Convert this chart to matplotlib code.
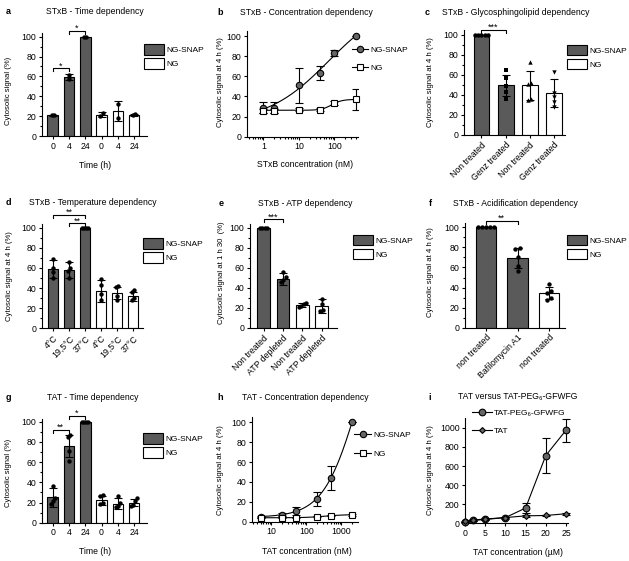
import numpy as np
import matplotlib
matplotlib.use('Agg')
import matplotlib.pyplot as plt
from matplotlib.patches import Patch
from matplotlib.lines import Line2D
from matplotlib.ticker import MultipleLocator

plt.rcParams['font.family'] = ['Liberation Sans', 'DejaVu Sans']
plt.rcParams['font.size'] = 6

# ---------------- data ----------------
# a - STxB time dependency
a_labels = ['0', '4', '24', '0', '4', '24']
a_snap_mean = [21, 59, 100]
a_snap_sd = [0.5, 3, 0]
a_snap_pts = [[21, 21], [61, 57], [100, 100]]
a_ng_mean = [21.5, 25, 21]
a_ng_sd = [2.5, 10, 1]
a_ng_pts = [[23, 20], [32, 18], [21, 22]]

# b - STxB concentration dependency
b_conc = [1, 2, 10, 40, 100, 400]
b_snap = [29, 29, 51, 63, 83, 100]
b_snap_sd = [5, 5, 17.5, 7, 3, 0]
b_ng = [26, 26, 27, 27, 33, 37]
b_ng_sd = [2, 2, 1.5, 1.5, 2, 10]

# c - glycosphingolipid dependency
c_labels = ['Non treated', 'Genz treated', 'Non treated', 'Genz treated']
c_snap_mean = [100, 50]
c_snap_sd = [0, 10.5]
c_snap_pts = [[100, 100, 100, 100, 100], [65, 57, 49, 43, 36]]
c_ng_mean = [50, 42]
c_ng_sd = [14.5, 14]
c_ng_pts = [[73, 52, 51, 36, 35], [63, 42, 38, 33, 28]]

# d - temperature dependency
d_labels = ['4°C', '19,5°C', '37°C', '4°C', '19,5°C', '37°C']
d_snap_mean = [59, 58, 100]
d_snap_sd = [9, 8, 0]
d_snap_pts = [[69, 60, 56, 50], [66, 60, 57, 50], [100, 100, 100, 100]]
d_ng_mean = [37, 35, 32]
d_ng_sd = [11, 6, 4.5]
d_ng_pts = [[49, 43, 34, 28], [42, 41, 32, 28], [38, 36, 30, 28]]

# e - ATP dependency
e_labels = ['Non treated', 'ATP depleted', 'Non treated', 'ATP depleted']
e_snap_mean = [100, 49]
e_snap_sd = [0, 6]
e_snap_pts = [[100, 100, 100, 100], [56, 51, 48, 46]]
e_ng_mean = [23, 22]
e_ng_sd = [2, 7]
e_ng_pts = [[25, 24, 22, 21], [29, 24, 18, 17]]

# f - acidification dependency
f_labels = ['non treated', 'Bafilomycin A1', 'non treated']
f_snap_mean = [100, 69]
f_snap_sd = [0, 10]
f_snap_pts = [[100, 100, 100, 100, 100], [79, 78, 70, 61, 56]]
f_ng_mean = [35]
f_ng_sd = [6]
f_ng_pts = [[44, 37, 35, 30, 28]]

# g - TAT time dependency
g_labels = ['0', '4', '24', '0', '4', '24']
g_snap_mean = [25, 76, 100]
g_snap_sd = [9, 11, 0]
g_snap_pts = [[36, 24, 21, 19], [87, 85, 71, 61], [100, 100, 100, 100]]
g_ng_mean = [22, 19, 20]
g_ng_sd = [4, 5, 3]
g_ng_pts = [[27, 26, 20, 19], [26, 20, 17, 16], [24, 21, 18, 17]]

# h - TAT concentration dependency
h_conc = [5, 20, 50, 200, 500, 2000]
h_snap = [5, 7, 11, 23, 44, 100]
h_snap_sd = [1, 1.5, 4, 7, 12, 0]
h_ng = [4, 4, 4, 5, 6, 7]
h_ng_sd = [0.5, 0.5, 0.5, 0.5, 0.7, 0.8]

# i - TAT versus TAT-PEG6-GFWFG
i_conc = [0, 2, 5, 10, 15, 20, 25]
i_peg = [12, 35, 45, 60, 160, 710, 975]
i_peg_sd = [5, 10, 10, 10, 55, 180, 120]
i_tat = [20, 30, 40, 60, 78, 82, 100]
i_tat_sd = [5, 5, 5, 5, 10, 10, 10]

DARK = '#5a5a5a'
GRAY = '#666666'
W, H = 629, 561
fig = plt.figure(figsize=(W / 100, H / 100), dpi=100)


def add_ax(l, t, r, b):
    ax = fig.add_axes([l / W, 1 - b / H, (r - l) / W, (b - t) / H])
    for s in ['top', 'right']:
        ax.spines[s].set_visible(False)
    for s in ['left', 'bottom']:
        ax.spines[s].set_linewidth(0.8)
    ax.tick_params(width=0.8, length=2.5, labelsize=6.3, pad=1.5)
    ax.tick_params(which='minor', width=0.8, length=1.5)
    return ax


def swarm(vals, step=0.13, tol=3.5):
    vals = np.asarray(vals, float)
    order = np.argsort(vals)
    off = np.zeros(len(vals))
    groups, group = [], [order[0]]
    for i in order[1:]:
        if vals[i] - vals[group[-1]] < tol:
            group.append(i)
        else:
            groups.append(group)
            group = [i]
    groups.append(group)
    for g in groups:
        off[g] = (np.arange(len(g)) - (len(g) - 1) / 2) * step
    return off


def bar_panel(ax, snap_mean, snap_sd, snap_pts, ng_mean, ng_sd, ng_pts, labels,
              ytop, xlim, markers=None, rotate=False):
    means = snap_mean + ng_mean
    sds = snap_sd + ng_sd
    pts = snap_pts + ng_pts
    colors = [DARK] * len(snap_mean) + ['white'] * len(ng_mean)
    x = np.arange(len(means))
    if markers is None:
        markers = ['o'] * len(means)
    ax.bar(x, means, width=0.65, color=colors, edgecolor='black', linewidth=0.8, zorder=2)
    ax.errorbar(x, means, yerr=sds, fmt='none', ecolor='black', elinewidth=0.8,
                capsize=2.8, capthick=0.8, zorder=3)
    for xi, vals, m in zip(x, pts, markers):
        ax.scatter(xi + swarm(vals), vals, s=10, c='black', marker=m, lw=0, zorder=4, clip_on=False)
    ax.set_xlim(*xlim)
    ax.set_ylim(0, ytop)
    ax.set_yticks(range(0, 101, 20))
    ax.yaxis.set_minor_locator(MultipleLocator(10))
    ax.set_xticks(x)
    if rotate:
        ax.set_xticklabels(labels, rotation=45, ha='right', rotation_mode='anchor')
    else:
        ax.set_xticklabels(labels)


def bracket(ax, x1, x2, y, text, drop=3):
    ax.plot([x1, x1, x2, x2], [y - drop, y, y, y - drop], color='black', lw=0.8, clip_on=False)
    ax.annotate(text, ((x1 + x2) / 2, y), xytext=(0, -1.5), textcoords='offset points',
                ha='center', va='bottom', fontsize=6.5, annotation_clip=False)


def bar_legend(ax, x, y):
    handles = [Patch(facecolor=DARK, edgecolor='black', lw=0.8, label='NG-SNAP'),
               Patch(facecolor='white', edgecolor='black', lw=0.8, label='NG')]
    ax.legend(handles=handles, loc='upper left', bbox_to_anchor=(x / W, 1 - y / H),
              bbox_transform=fig.transFigure, frameon=False, fontsize=6,
              handlelength=2.4, handleheight=1.55, handletextpad=0.3,
              labelspacing=0.4, borderpad=0, borderaxespad=0)


def line_legend(ax, x, y, labels, markers, sizes, hl=2.0, spacing=1.2):
    handles = [Line2D([0], [0], color='black', lw=0.8, marker=m, markersize=ms,
                      markerfacecolor=GRAY, markeredgecolor='black', markeredgewidth=0.8)
               for m, ms in zip(markers, sizes)]
    ax.legend(handles, labels, loc='upper left', bbox_to_anchor=(x / W, 1 - y / H),
              bbox_transform=fig.transFigure, frameon=False, fontsize=6,
              handlelength=hl, handletextpad=0.25, labelspacing=spacing,
              borderpad=0, borderaxespad=0)


def logistic_fit(x, y, xs):
    # four-parameter logistic fit (grid over EC50 and slope, linear for bottom/top)
    lx = np.log10(x)
    y = np.asarray(y, float)
    best = (np.inf, None)
    for c in np.linspace(lx.min() - 1, lx.max() + 2, 200):
        for h in np.linspace(0.3, 3.0, 28):
            f = 1 / (1 + 10 ** ((c - lx) * h))
            A = np.column_stack([np.ones_like(f), f])
            coef = np.linalg.lstsq(A, y, rcond=None)[0]
            sse = np.sum((A @ coef - y) ** 2)
            if sse < best[0]:
                best = (sse, (c, h, coef))
    c, h, coef = best[1]
    return coef[0] + coef[1] / (1 + 10 ** ((c - np.log10(xs)) * h))


def dose_panel(ax, conc, snap, snap_sd, ng, ng_sd):
    xs = np.logspace(np.log10(conc[0]), np.log10(conc[-1]), 200)
    for yv, sd, m in [(snap, snap_sd, 'o'), (ng, ng_sd, 's')]:
        ax.plot(xs, logistic_fit(conc, yv, xs), color='black', lw=0.8, zorder=2)
        ax.errorbar(conc, yv, yerr=sd, fmt='none', ecolor='black', elinewidth=0.8,
                    capsize=2.8, capthick=0.8, zorder=3)
        ax.plot(conc, yv, ls='none', marker=m, markersize=4.6,
                markerfacecolor=GRAY if m == 'o' else 'white', markeredgecolor='black',
                markeredgewidth=0.8, zorder=4, clip_on=False)
    ax.set_xscale('log')
    ax.set_ylim(0, 105)
    ax.set_yticks(range(0, 101, 20))


def text_px(x, y, s, **kw):
    fig.text(x / W, 1 - y / H, s, ha=kw.pop('ha', 'center'), va=kw.pop('va', 'center'), **kw)


# ---------------- panel a ----------------
ax = add_ax(41.7, 32.7, 146.7, 136)
bar_panel(ax, a_snap_mean, a_snap_sd, a_snap_pts, a_ng_mean, a_ng_sd, a_ng_pts,
          a_labels, 104, (-0.67, 5.77))
bracket(ax, 0, 1, 68, '*')
bracket(ax, 1, 2, 106, '*')
bar_legend(ax, 144, 44.3)

# ---------------- panel b ----------------
ax = add_ax(246.7, 31, 358.3, 136.7)
dose_panel(ax, b_conc, b_snap, b_snap_sd, b_ng, b_ng_sd)
ax.set_xlim(0.34, 474)
ax.set_xticks([1, 10, 100])
ax.set_xticklabels(['1', '10', '100'])
line_legend(ax, 351.7, 46, ['NG-SNAP', 'NG'], ['o', 's'], [4.6, 4.6])
ax.get_legend().legend_handles[1].set_markerfacecolor('white')

# ---------------- panel c ----------------
ax = add_ax(464, 30, 565, 135)
bar_panel(ax, c_snap_mean, c_snap_sd, c_snap_pts, c_ng_mean, c_ng_sd, c_ng_pts,
          c_labels, 105, (-0.72, 3.45), markers=['o', 's', '^', 'v'], rotate=True)
bracket(ax, 0, 1, 105, '***')
bar_legend(ax, 566.7, 45)

# ---------------- panel d ----------------
ax = add_ax(41.7, 224.2, 143.3, 328.3)
bar_panel(ax, d_snap_mean, d_snap_sd, d_snap_pts, d_ng_mean, d_ng_sd, d_ng_pts,
          d_labels, 103.5, (-0.72, 5.63), rotate=True)
bracket(ax, 0, 2, 112.5, '**')
bracket(ax, 1, 2, 104.5, '**')
bar_legend(ax, 143.3, 238.3)

# ---------------- panel e ----------------
ax = add_ax(250, 223.7, 336.7, 327.7)
bar_panel(ax, e_snap_mean, e_snap_sd, e_snap_pts, e_ng_mean, e_ng_sd, e_ng_pts,
          e_labels, 104, (-0.71, 3.78), rotate=True)
bracket(ax, 0, 1, 108.5, '***')
bar_legend(ax, 353.3, 235)

# ---------------- panel f ----------------
ax = add_ax(465, 223.3, 565, 327.7)
bar_panel(ax, f_snap_mean, f_snap_sd, f_snap_pts, f_ng_mean, f_ng_sd, f_ng_pts,
          f_labels, 104, (-0.66, 2.5), rotate=True)
bracket(ax, 0, 1, 106.5, '**')
bar_legend(ax, 566.7, 235)

# ---------------- panel g ----------------
ax = add_ax(41.7, 418.7, 146.7, 522.7)
bar_panel(ax, g_snap_mean, g_snap_sd, g_snap_pts, g_ng_mean, g_ng_sd, g_ng_pts,
          g_labels, 103, (-0.67, 5.77))
bracket(ax, 0, 1, 92, '**')
bracket(ax, 1, 2, 106, '*')
bar_legend(ax, 143.3, 433.3)

# ---------------- panel h ----------------
ax = add_ax(251.7, 417.3, 357.7, 521.7)
dose_panel(ax, h_conc, h_snap, h_snap_sd, h_ng, h_ng_sd)
ax.set_xlim(2.8, 2900)
ax.set_xticks([10, 100, 1000])
ax.set_xticklabels(['10', '100', '1000'])
line_legend(ax, 354.3, 431, ['NG-SNAP', 'NG'], ['o', 's'], [4.6, 4.6], spacing=1.3)
ax.get_legend().legend_handles[1].set_markerfacecolor('white')

# ---------------- panel i ----------------
ax = add_ax(465, 418.3, 568, 523.3)
ax.errorbar(i_conc, i_peg, yerr=i_peg_sd, color='black', lw=0.8, elinewidth=0.8,
            capsize=2.8, capthick=0.8, marker='o', markersize=4.8, markerfacecolor=GRAY,
            markeredgecolor='black', markeredgewidth=0.8, zorder=3, clip_on=False)
ax.errorbar(i_conc, i_tat, yerr=i_tat_sd, color='black', lw=0.8, elinewidth=0.8,
            capsize=2.8, capthick=0.8, marker='D', markersize=3.0, markerfacecolor=GRAY,
            markeredgecolor='black', markeredgewidth=0.8, zorder=4, clip_on=False)
ax.set_xlim(0, 25.5)
ax.set_ylim(0, 1100)
ax.set_xticks(range(0, 26, 5))
ax.set_yticks(range(0, 1001, 200))
line_legend(ax, 471.7, 409, ['TAT-PEG₆-GFWFG', 'TAT'], ['o', 'D'], [4.8, 3.0],
            hl=2.4, spacing=1.2)

# ---------------- titles, letters, axis labels ----------------
titles = [
    ('a', 8.3, 12, 95, 'STxB - Time dependency'),
    ('b', 220, 12.7, 306.7, 'STxB - Concentration dependency'),
    ('c', 426.7, 12.7, 516, 'STxB - Glycosphingolipid dependency'),
    ('d', 8.3, 202.3, 92.5, 'STxB - Temperature dependency'),
    ('e', 221, 203, 305, 'STxB - ATP dependency'),
    ('f', 430, 203, 515.5, 'STxB - Acidification dependency'),
    ('g', 8.3, 398, 92.5, 'TAT - Time dependency'),
    ('h', 220, 397.3, 305, 'TAT - Concentration dependency'),
    ('i', 430, 397, 518, 'TAT versus TAT-PEG₆-GFWFG'),
]
for letter, lx, ly, tx, title in titles:
    text_px(lx, ly, letter, fontsize=6.5, fontweight='bold')
    text_px(tx, ly, title, fontsize=6.2)

ylabels = [
    (8.5, 91, 'Cytosolic signal (%)'),
    (220, 82, 'Cytosolic signal at 4 h (%)'),
    (430, 82, 'Cytosolic signal at 4 h (%)'),
    (10, 276, 'Cytosolic signal at 4 h (%)'),
    (221.7, 273, 'Cytosolic signal at 1 h 30  (%)'),
    (430, 272, 'Cytosolic signal at 4 h (%)'),
    (8.5, 473, 'Cytosolic signal (%)'),
    (220, 470, 'Cytosolic signal at 4 h (%)'),
    (430, 470, 'Cytosolic signal at 4 h (%)'),
]
for x, y, s in ylabels:
    text_px(x, y, s, rotation=90, fontsize=5.6)

xlabels = [
    (95, 165, 'Time (h)'),
    (305, 164.3, 'STxB concentration (nM)'),
    (95, 551.7, 'Time (h)'),
    (306.7, 551.7, 'TAT concentration (nM)'),
    (518.3, 552.7, 'TAT concentration (µM)'),
]
for x, y, s in xlabels:
    text_px(x, y, s, fontsize=6.2)

fig.savefig('out.png', dpi=100)
